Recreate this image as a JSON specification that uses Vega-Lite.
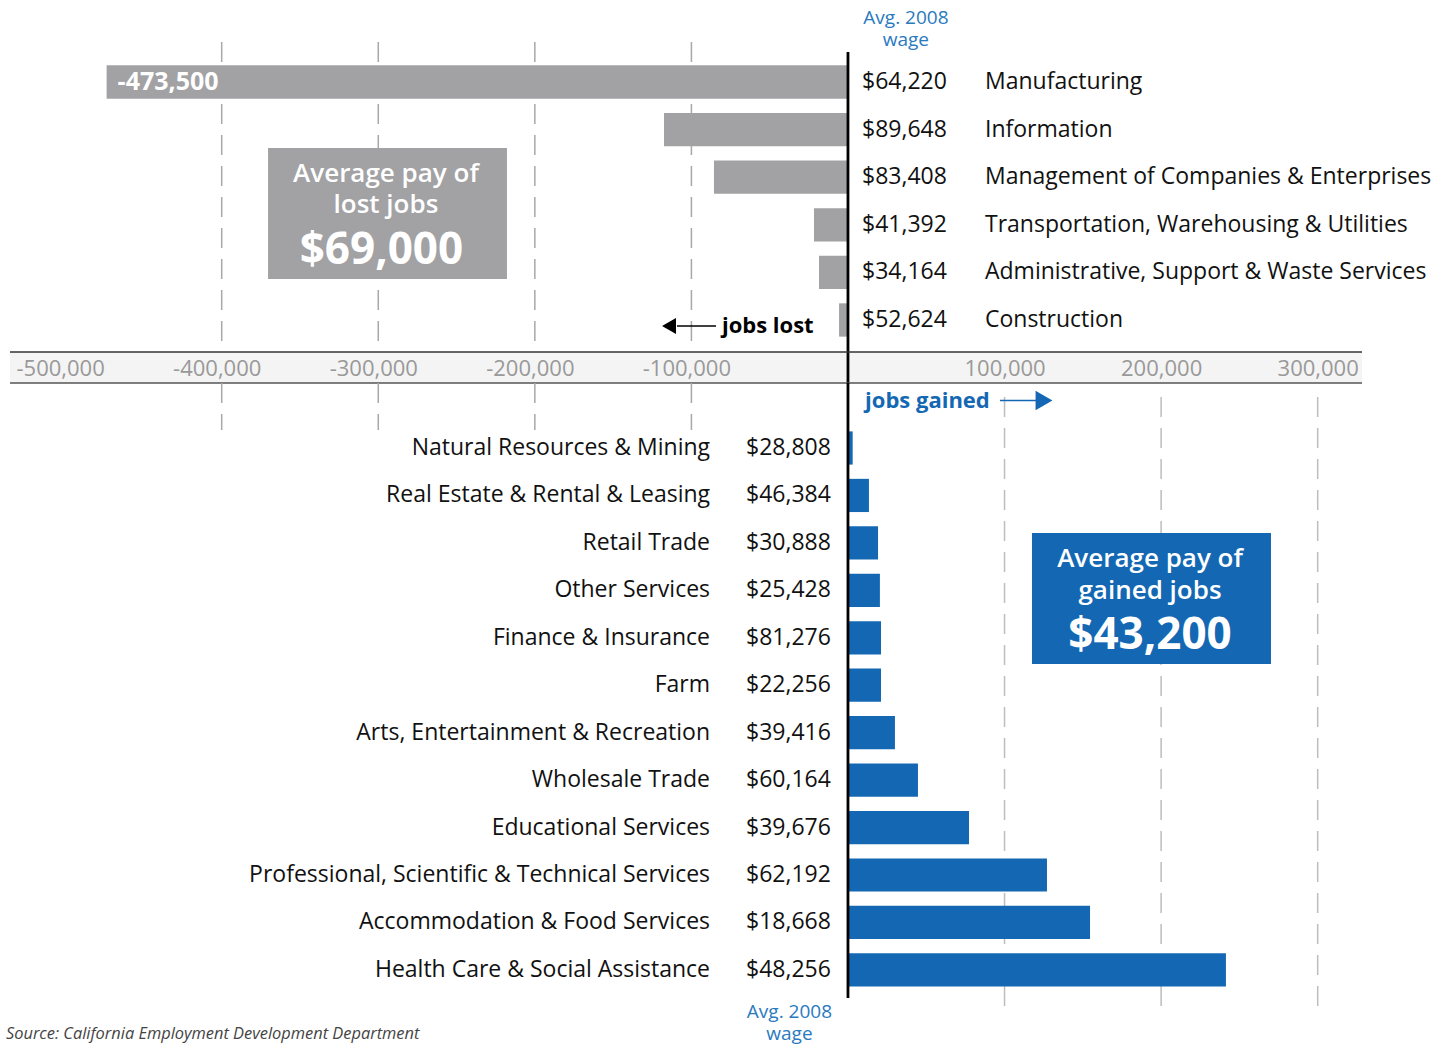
{
  "$schema": "https://vega.github.io/schema/vega-lite/v6.json",
  "padding": 0,
  "spacing": 0,
  "bounds": "flush",
  "config": {
    "view": {"stroke": null},
    "font": "Open Sans",
    "locale": {"number": {"decimal": ".", "thousands": ",", "grouping": [3], "currency": ["$", ""], "minus": "-"}}
  },
  "datasets": {
    "lost": [
      {"industry": "Manufacturing", "jobs": -473500, "wage": 64220},
      {"industry": "Information", "jobs": -117500, "wage": 89648},
      {"industry": "Management of Companies & Enterprises", "jobs": -85600, "wage": 83408},
      {"industry": "Transportation, Warehousing & Utilities", "jobs": -21700, "wage": 41392},
      {"industry": "Administrative, Support & Waste Services", "jobs": -18500, "wage": 34164},
      {"industry": "Construction", "jobs": -5700, "wage": 52624}
    ],
    "gained": [
      {"industry": "Natural Resources & Mining", "jobs": 3000, "wage": 28808},
      {"industry": "Real Estate & Rental & Leasing", "jobs": 13400, "wage": 46384},
      {"industry": "Retail Trade", "jobs": 19200, "wage": 30888},
      {"industry": "Other Services", "jobs": 20400, "wage": 25428},
      {"industry": "Finance & Insurance", "jobs": 21100, "wage": 81276},
      {"industry": "Farm", "jobs": 21100, "wage": 22256},
      {"industry": "Arts, Entertainment & Recreation", "jobs": 30000, "wage": 39416},
      {"industry": "Wholesale Trade", "jobs": 44700, "wage": 60164},
      {"industry": "Educational Services", "jobs": 77300, "wage": 39676},
      {"industry": "Professional, Scientific & Technical Services", "jobs": 127100, "wage": 62192},
      {"industry": "Accommodation & Food Services", "jobs": 154600, "wage": 18668},
      {"industry": "Health Care & Social Assistance", "jobs": 241400, "wage": 48256}
    ],
    "grid": [
      {"v": -400000}, {"v": -300000}, {"v": -200000}, {"v": -100000},
      {"v": 100000}, {"v": 200000}, {"v": 300000}
    ]
  },
  "resolve": {"scale": {"x": "independent", "y": "independent"}},
  "vconcat": [
    {
      "width": 1442,
      "height": 352,
      "layer": [
        {
          "data": {"name": "grid"},
          "transform": [{"filter": "datum.v < 0"}],
          "mark": {"type": "rule", "color": "#a8a8a8", "strokeWidth": 1.5, "strokeDash": [20, 11]},
          "encoding": {
            "x": {"field": "v", "type": "quantitative", "scale": {"domain": [-541600, 379400], "nice": false, "zero": false}, "axis": null},
            "y": {"datum": "_header", "type": "nominal", "bandPosition": 0.728, "axis": null,
              "scale": {"type": "band", "round": false, "domain": ["_header", "Manufacturing", "Information", "Management of Companies & Enterprises", "Transportation, Warehousing & Utilities", "Administrative, Support & Waste Services", "Construction"], "paddingInner": 0.3, "paddingOuter": 0.3475, "align": 0.536}},
            "y2": {"datum": "Construction", "bandPosition": 1.46}
          }
        },
        {
          "data": {"name": "lost"},
          "mark": {"type": "bar", "color": "#a2a2a4"},
          "encoding": {
            "x": {"field": "jobs", "type": "quantitative", "scale": {"domain": [-541600, 379400], "nice": false, "zero": false}, "axis": null},
            "x2": {"datum": 0},
            "y": {"field": "industry", "type": "nominal", "axis": null,
              "scale": {"type": "band", "round": false, "domain": ["_header", "Manufacturing", "Information", "Management of Companies & Enterprises", "Transportation, Warehousing & Utilities", "Administrative, Support & Waste Services", "Construction"], "paddingInner": 0.3, "paddingOuter": 0.3475, "align": 0.536}}
          }
        },
        {
          "data": {"values": [{"label": "zero"}]},
          "mark": {"type": "rule", "color": "#000000", "strokeWidth": 2.8},
          "encoding": {
            "x": {"datum": 0, "type": "quantitative", "scale": {"domain": [-541600, 379400], "nice": false, "zero": false}, "axis": null},
            "y": {"datum": "_header", "type": "nominal", "bandPosition": 1.03, "axis": null,
              "scale": {"type": "band", "round": false, "domain": ["_header", "Manufacturing", "Information", "Management of Companies & Enterprises", "Transportation, Warehousing & Utilities", "Administrative, Support & Waste Services", "Construction"], "paddingInner": 0.3, "paddingOuter": 0.3475, "align": 0.536}},
            "y2": {"datum": "Construction", "bandPosition": 1.46}
          }
        },
        {
          "data": {"name": "lost"},
          "mark": {"type": "text", "align": "left", "baseline": "middle", "fontSize": 23, "color": "#111111"},
          "encoding": {
            "x": {"datum": 8940, "type": "quantitative", "scale": {"domain": [-541600, 379400], "nice": false, "zero": false}, "axis": null},
            "y": {"field": "industry", "type": "nominal", "axis": null,
              "scale": {"type": "band", "round": false, "domain": ["_header", "Manufacturing", "Information", "Management of Companies & Enterprises", "Transportation, Warehousing & Utilities", "Administrative, Support & Waste Services", "Construction"], "paddingInner": 0.3, "paddingOuter": 0.3475, "align": 0.536}},
            "text": {"field": "wage", "type": "quantitative", "format": "$,"}
          }
        },
        {
          "data": {"name": "lost"},
          "mark": {"type": "text", "align": "left", "baseline": "middle", "fontSize": 23, "color": "#111111"},
          "encoding": {
            "x": {"datum": 87500, "type": "quantitative", "scale": {"domain": [-541600, 379400], "nice": false, "zero": false}, "axis": null},
            "y": {"field": "industry", "type": "nominal", "axis": null,
              "scale": {"type": "band", "round": false, "domain": ["_header", "Manufacturing", "Information", "Management of Companies & Enterprises", "Transportation, Warehousing & Utilities", "Administrative, Support & Waste Services", "Construction"], "paddingInner": 0.3, "paddingOuter": 0.3475, "align": 0.536}},
            "text": {"field": "industry", "type": "nominal"}
          }
        },
        {
          "data": {"name": "lost"},
          "transform": [{"filter": {"field": "industry", "equal": "Manufacturing"}}],
          "mark": {"type": "text", "align": "left", "baseline": "middle", "fontSize": 25, "fontWeight": "bold", "color": "#ffffff", "dx": 11},
          "encoding": {
            "x": {"field": "jobs", "type": "quantitative", "scale": {"domain": [-541600, 379400], "nice": false, "zero": false}, "axis": null},
            "y": {"field": "industry", "type": "nominal", "axis": null,
              "scale": {"type": "band", "round": false, "domain": ["_header", "Manufacturing", "Information", "Management of Companies & Enterprises", "Transportation, Warehousing & Utilities", "Administrative, Support & Waste Services", "Construction"], "paddingInner": 0.3, "paddingOuter": 0.3475, "align": 0.536}},
            "text": {"field": "jobs", "type": "quantitative", "format": ","}
          }
        },
        {
          "data": {"values": [{"label": "Avg. 2008\nwage"}]},
          "mark": {"type": "text", "align": "center", "baseline": "middle", "fontSize": 19, "lineHeight": 22, "lineBreak": "\n", "color": "#2a7ac0"},
          "encoding": {
            "x": {"datum": 37000, "type": "quantitative", "scale": {"domain": [-541600, 379400], "nice": false, "zero": false}, "axis": null},
            "y": {"datum": "_header", "type": "nominal", "bandPosition": 0.0, "axis": null,
              "scale": {"type": "band", "round": false, "domain": ["_header", "Manufacturing", "Information", "Management of Companies & Enterprises", "Transportation, Warehousing & Utilities", "Administrative, Support & Waste Services", "Construction"], "paddingInner": 0.3, "paddingOuter": 0.3475, "align": 0.536}},
            "text": {"field": "label", "type": "nominal"}
          }
        },
        {
          "data": {"values": [{"label": "box"}]},
          "mark": {"type": "rect", "color": "#a2a2a4"},
          "encoding": {
            "x": {"datum": -370400, "type": "quantitative", "scale": {"domain": [-541600, 379400], "nice": false, "zero": false}, "axis": null},
            "x2": {"datum": -217800},
            "y": {"datum": "Management of Companies & Enterprises", "type": "nominal", "bandPosition": -0.376, "axis": null,
              "scale": {"type": "band", "round": false, "domain": ["_header", "Manufacturing", "Information", "Management of Companies & Enterprises", "Transportation, Warehousing & Utilities", "Administrative, Support & Waste Services", "Construction"], "paddingInner": 0.3, "paddingOuter": 0.3475, "align": 0.536}},
            "y2": {"datum": "Administrative, Support & Waste Services", "bandPosition": 0.7}
          }
        },
        {
          "data": {"values": [{"label": "Average pay of\nlost jobs"}]},
          "mark": {"type": "text", "align": "center", "baseline": "middle", "fontSize": 26, "fontWeight": 600, "lineHeight": 31, "lineBreak": "\n", "color": "#ffffff"},
          "encoding": {
            "x": {"datum": -295100, "type": "quantitative", "scale": {"domain": [-541600, 379400], "nice": false, "zero": false}, "axis": null},
            "y": {"datum": "Management of Companies & Enterprises", "type": "nominal", "bandPosition": 0.4, "axis": null,
              "scale": {"type": "band", "round": false, "domain": ["_header", "Manufacturing", "Information", "Management of Companies & Enterprises", "Transportation, Warehousing & Utilities", "Administrative, Support & Waste Services", "Construction"], "paddingInner": 0.3, "paddingOuter": 0.3475, "align": 0.536}},
            "text": {"field": "label", "type": "nominal"}
          }
        },
        {
          "data": {"values": [{"label": "$69,000"}]},
          "mark": {"type": "text", "align": "center", "baseline": "middle", "fontSize": 44, "fontWeight": "bold", "color": "#ffffff"},
          "encoding": {
            "x": {"datum": -298000, "type": "quantitative", "scale": {"domain": [-541600, 379400], "nice": false, "zero": false}, "axis": null},
            "y": {"datum": "Transportation, Warehousing & Utilities", "type": "nominal", "bandPosition": 1.28, "axis": null,
              "scale": {"type": "band", "round": false, "domain": ["_header", "Manufacturing", "Information", "Management of Companies & Enterprises", "Transportation, Warehousing & Utilities", "Administrative, Support & Waste Services", "Construction"], "paddingInner": 0.3, "paddingOuter": 0.3475, "align": 0.536}},
            "text": {"field": "label", "type": "nominal"}
          }
        },
        {
          "data": {"values": [{"label": "arrow"}]},
          "mark": {"type": "rule", "color": "#000000", "strokeWidth": 1.5},
          "encoding": {
            "x": {"datum": -109200, "type": "quantitative", "scale": {"domain": [-541600, 379400], "nice": false, "zero": false}, "axis": null},
            "x2": {"datum": -84300},
            "y": {"datum": "Construction", "type": "nominal", "bandPosition": 0.68, "axis": null,
              "scale": {"type": "band", "round": false, "domain": ["_header", "Manufacturing", "Information", "Management of Companies & Enterprises", "Transportation, Warehousing & Utilities", "Administrative, Support & Waste Services", "Construction"], "paddingInner": 0.3, "paddingOuter": 0.3475, "align": 0.536}}
          }
        },
        {
          "data": {"values": [{"label": "arrowhead"}]},
          "mark": {"type": "point", "shape": "triangle-left", "filled": true, "color": "#000000", "size": 260, "opacity": 1},
          "encoding": {
            "x": {"datum": -114300, "type": "quantitative", "scale": {"domain": [-541600, 379400], "nice": false, "zero": false}, "axis": null},
            "y": {"datum": "Construction", "type": "nominal", "bandPosition": 0.68, "axis": null,
              "scale": {"type": "band", "round": false, "domain": ["_header", "Manufacturing", "Information", "Management of Companies & Enterprises", "Transportation, Warehousing & Utilities", "Administrative, Support & Waste Services", "Construction"], "paddingInner": 0.3, "paddingOuter": 0.3475, "align": 0.536}}
          }
        },
        {
          "data": {"values": [{"label": "jobs lost"}]},
          "mark": {"type": "text", "align": "left", "baseline": "middle", "fontSize": 22, "fontWeight": "bold", "color": "#000000"},
          "encoding": {
            "x": {"datum": -80500, "type": "quantitative", "scale": {"domain": [-541600, 379400], "nice": false, "zero": false}, "axis": null},
            "y": {"datum": "Construction", "type": "nominal", "bandPosition": 0.68, "axis": null,
              "scale": {"type": "band", "round": false, "domain": ["_header", "Manufacturing", "Information", "Management of Companies & Enterprises", "Transportation, Warehousing & Utilities", "Administrative, Support & Waste Services", "Construction"], "paddingInner": 0.3, "paddingOuter": 0.3475, "align": 0.536}},
            "text": {"field": "label", "type": "nominal"}
          }
        }
      ]
    },
    {
      "width": 1442,
      "height": 31,
      "layer": [
        {
          "data": {"values": [{"label": "band"}]},
          "mark": {"type": "rect", "color": "#f4f4f4"},
          "encoding": {
            "x": {"datum": -535200, "type": "quantitative", "scale": {"domain": [-541600, 379400], "nice": false, "zero": false},
              "axis": {"orient": "bottom", "zindex": 2, "values": [-500000, -400000, -300000, -200000, -100000, 100000, 200000, 300000], "labelExpr": "replace(format(datum.value, ','), '\u2212', '-')", "labelColor": "#999999", "labelFontSize": 22, "labelFont": "Open Sans", "labelOffset": {"condition": {"test": "datum.value < 0", "value": -5}, "value": 0}, "domain": false, "ticks": false, "tickSize": 0, "grid": false, "labelPadding": -15, "labelBaseline": "middle", "labelFlush": false, "labelOverlap": false, "labelBound": false, "title": null}},
            "x2": {"datum": 328300},
            "y": {"datum": 0, "type": "quantitative", "scale": {"domain": [0, 1]}, "axis": null},
            "y2": {"datum": 1}
          }
        },
        {
          "data": {"values": [{"label": "zero"}]},
          "mark": {"type": "rule", "color": "#000000", "strokeWidth": 2.8},
          "encoding": {
            "x": {"datum": 0, "type": "quantitative", "scale": {"domain": [-541600, 379400], "nice": false, "zero": false}}
          }
        },
        {
          "data": {"values": [{"label": "top line"}]},
          "mark": {"type": "rule", "color": "#333333", "strokeWidth": 1.6},
          "encoding": {
            "x": {"datum": -535200, "type": "quantitative", "scale": {"domain": [-541600, 379400], "nice": false, "zero": false}},
            "x2": {"datum": 328300},
            "y": {"datum": 1, "type": "quantitative", "scale": {"domain": [0, 1]}, "axis": null}
          }
        },
        {
          "data": {"values": [{"label": "bottom line"}]},
          "mark": {"type": "rule", "color": "#555555", "strokeWidth": 1.6},
          "encoding": {
            "x": {"datum": -535200, "type": "quantitative", "scale": {"domain": [-541600, 379400], "nice": false, "zero": false}},
            "x2": {"datum": 328300},
            "y": {"datum": 0, "type": "quantitative", "scale": {"domain": [0, 1]}, "axis": null}
          }
        }
      ]
    },
    {
      "width": 1442,
      "height": 661,
      "layer": [
        {
          "data": {"name": "grid"},
          "transform": [{"filter": "datum.v < 0"}],
          "mark": {"type": "rule", "color": "#a8a8a8", "strokeWidth": 1.5, "strokeDash": [20, 11]},
          "encoding": {
            "x": {"field": "v", "type": "quantitative", "scale": {"domain": [-541600, 379400], "nice": false, "zero": false}, "axis": null},
            "y": {"datum": "_gain", "type": "nominal", "bandPosition": -0.03, "axis": null,
              "scale": {"type": "band", "round": false, "domain": ["_gain", "Natural Resources & Mining", "Real Estate & Rental & Leasing", "Retail Trade", "Other Services", "Finance & Insurance", "Farm", "Arts, Entertainment & Recreation", "Wholesale Trade", "Educational Services", "Professional, Scientific & Technical Services", "Accommodation & Food Services", "Health Care & Social Assistance", "_footer"], "paddingInner": 0.3, "paddingOuter": 0.116, "align": 0.086}},
            "y2": {"datum": "Natural Resources & Mining", "bandPosition": -0.04}
          }
        },
        {
          "data": {"name": "grid"},
          "transform": [{"filter": "datum.v > 0"}],
          "mark": {"type": "rule", "color": "#bdbdbd", "strokeWidth": 1.5, "strokeDash": [20, 11]},
          "encoding": {
            "x": {"field": "v", "type": "quantitative", "scale": {"domain": [-541600, 379400], "nice": false, "zero": false}, "axis": null},
            "y": {"datum": "_gain", "type": "nominal", "bandPosition": 0.39, "axis": null,
              "scale": {"type": "band", "round": false, "domain": ["_gain", "Natural Resources & Mining", "Real Estate & Rental & Leasing", "Retail Trade", "Other Services", "Finance & Insurance", "Farm", "Arts, Entertainment & Recreation", "Wholesale Trade", "Educational Services", "Professional, Scientific & Technical Services", "Accommodation & Food Services", "Health Care & Social Assistance", "_footer"], "paddingInner": 0.3, "paddingOuter": 0.116, "align": 0.086}},
            "y2": {"datum": "_footer", "bandPosition": 0.28}
          }
        },
        {
          "data": {"name": "gained"},
          "mark": {"type": "bar", "color": "#1468b3"},
          "encoding": {
            "x": {"field": "jobs", "type": "quantitative", "scale": {"domain": [-541600, 379400], "nice": false, "zero": false}, "axis": null},
            "x2": {"datum": 0},
            "y": {"field": "industry", "type": "nominal", "axis": null,
              "scale": {"type": "band", "round": false, "domain": ["_gain", "Natural Resources & Mining", "Real Estate & Rental & Leasing", "Retail Trade", "Other Services", "Finance & Insurance", "Farm", "Arts, Entertainment & Recreation", "Wholesale Trade", "Educational Services", "Professional, Scientific & Technical Services", "Accommodation & Food Services", "Health Care & Social Assistance", "_footer"], "paddingInner": 0.3, "paddingOuter": 0.116, "align": 0.086}}
          }
        },
        {
          "data": {"values": [{"label": "zero"}]},
          "mark": {"type": "rule", "color": "#000000", "strokeWidth": 2.8},
          "encoding": {
            "x": {"datum": 0, "type": "quantitative", "scale": {"domain": [-541600, 379400], "nice": false, "zero": false}, "axis": null},
            "y": {"datum": "_gain", "type": "nominal", "bandPosition": -0.03, "axis": null,
              "scale": {"type": "band", "round": false, "domain": ["_gain", "Natural Resources & Mining", "Real Estate & Rental & Leasing", "Retail Trade", "Other Services", "Finance & Insurance", "Farm", "Arts, Entertainment & Recreation", "Wholesale Trade", "Educational Services", "Professional, Scientific & Technical Services", "Accommodation & Food Services", "Health Care & Social Assistance", "_footer"], "paddingInner": 0.3, "paddingOuter": 0.116, "align": 0.086}},
            "y2": {"datum": "Health Care & Social Assistance", "bandPosition": 1.35}
          }
        },
        {
          "data": {"name": "gained"},
          "mark": {"type": "text", "align": "right", "baseline": "middle", "fontSize": 23, "color": "#111111"},
          "encoding": {
            "x": {"datum": -10900, "type": "quantitative", "scale": {"domain": [-541600, 379400], "nice": false, "zero": false}, "axis": null},
            "y": {"field": "industry", "type": "nominal", "axis": null,
              "scale": {"type": "band", "round": false, "domain": ["_gain", "Natural Resources & Mining", "Real Estate & Rental & Leasing", "Retail Trade", "Other Services", "Finance & Insurance", "Farm", "Arts, Entertainment & Recreation", "Wholesale Trade", "Educational Services", "Professional, Scientific & Technical Services", "Accommodation & Food Services", "Health Care & Social Assistance", "_footer"], "paddingInner": 0.3, "paddingOuter": 0.116, "align": 0.086}},
            "text": {"field": "wage", "type": "quantitative", "format": "$,"}
          }
        },
        {
          "data": {"name": "gained"},
          "mark": {"type": "text", "align": "right", "baseline": "middle", "fontSize": 23, "color": "#111111"},
          "encoding": {
            "x": {"datum": -88100, "type": "quantitative", "scale": {"domain": [-541600, 379400], "nice": false, "zero": false}, "axis": null},
            "y": {"field": "industry", "type": "nominal", "axis": null,
              "scale": {"type": "band", "round": false, "domain": ["_gain", "Natural Resources & Mining", "Real Estate & Rental & Leasing", "Retail Trade", "Other Services", "Finance & Insurance", "Farm", "Arts, Entertainment & Recreation", "Wholesale Trade", "Educational Services", "Professional, Scientific & Technical Services", "Accommodation & Food Services", "Health Care & Social Assistance", "_footer"], "paddingInner": 0.3, "paddingOuter": 0.116, "align": 0.086}},
            "text": {"field": "industry", "type": "nominal"}
          }
        },
        {
          "data": {"values": [{"label": "box"}]},
          "mark": {"type": "rect", "color": "#1468b3"},
          "encoding": {
            "x": {"datum": 117520, "type": "quantitative", "scale": {"domain": [-541600, 379400], "nice": false, "zero": false}, "axis": null},
            "x2": {"datum": 270170},
            "y": {"datum": "Retail Trade", "type": "nominal", "bandPosition": 0.2, "axis": null,
              "scale": {"type": "band", "round": false, "domain": ["_gain", "Natural Resources & Mining", "Real Estate & Rental & Leasing", "Retail Trade", "Other Services", "Finance & Insurance", "Farm", "Arts, Entertainment & Recreation", "Wholesale Trade", "Educational Services", "Professional, Scientific & Technical Services", "Accommodation & Food Services", "Health Care & Social Assistance", "_footer"], "paddingInner": 0.3, "paddingOuter": 0.116, "align": 0.086}},
            "y2": {"datum": "Farm", "bandPosition": -0.14}
          }
        },
        {
          "data": {"values": [{"label": "Average pay of\ngained jobs"}]},
          "mark": {"type": "text", "align": "center", "baseline": "middle", "fontSize": 26, "fontWeight": 600, "lineHeight": 32, "lineBreak": "\n", "color": "#ffffff"},
          "encoding": {
            "x": {"datum": 192900, "type": "quantitative", "scale": {"domain": [-541600, 379400], "nice": false, "zero": false}, "axis": null},
            "y": {"datum": "Other Services", "type": "nominal", "bandPosition": -0.44, "axis": null,
              "scale": {"type": "band", "round": false, "domain": ["_gain", "Natural Resources & Mining", "Real Estate & Rental & Leasing", "Retail Trade", "Other Services", "Finance & Insurance", "Farm", "Arts, Entertainment & Recreation", "Wholesale Trade", "Educational Services", "Professional, Scientific & Technical Services", "Accommodation & Food Services", "Health Care & Social Assistance", "_footer"], "paddingInner": 0.3, "paddingOuter": 0.116, "align": 0.086}},
            "text": {"field": "label", "type": "nominal"}
          }
        },
        {
          "data": {"values": [{"label": "$43,200"}]},
          "mark": {"type": "text", "align": "center", "baseline": "middle", "fontSize": 44, "fontWeight": "bold", "color": "#ffffff"},
          "encoding": {
            "x": {"datum": 192900, "type": "quantitative", "scale": {"domain": [-541600, 379400], "nice": false, "zero": false}, "axis": null},
            "y": {"datum": "Finance & Insurance", "type": "nominal", "bandPosition": 0.45, "axis": null,
              "scale": {"type": "band", "round": false, "domain": ["_gain", "Natural Resources & Mining", "Real Estate & Rental & Leasing", "Retail Trade", "Other Services", "Finance & Insurance", "Farm", "Arts, Entertainment & Recreation", "Wholesale Trade", "Educational Services", "Professional, Scientific & Technical Services", "Accommodation & Food Services", "Health Care & Social Assistance", "_footer"], "paddingInner": 0.3, "paddingOuter": 0.116, "align": 0.086}},
            "text": {"field": "label", "type": "nominal"}
          }
        },
        {
          "data": {"values": [{"label": "jobs gained"}]},
          "mark": {"type": "text", "align": "left", "baseline": "middle", "fontSize": 22, "fontWeight": "bold", "color": "#1468b3"},
          "encoding": {
            "x": {"datum": 10900, "type": "quantitative", "scale": {"domain": [-541600, 379400], "nice": false, "zero": false}, "axis": null},
            "y": {"datum": "_gain", "type": "nominal", "axis": null,
              "scale": {"type": "band", "round": false, "domain": ["_gain", "Natural Resources & Mining", "Real Estate & Rental & Leasing", "Retail Trade", "Other Services", "Finance & Insurance", "Farm", "Arts, Entertainment & Recreation", "Wholesale Trade", "Educational Services", "Professional, Scientific & Technical Services", "Accommodation & Food Services", "Health Care & Social Assistance", "_footer"], "paddingInner": 0.3, "paddingOuter": 0.116, "align": 0.086}},
            "text": {"field": "label", "type": "nominal"}
          }
        },
        {
          "data": {"values": [{"label": "arrow"}]},
          "mark": {"type": "rule", "color": "#1468b3", "strokeWidth": 1.5},
          "encoding": {
            "x": {"datum": 97100, "type": "quantitative", "scale": {"domain": [-541600, 379400], "nice": false, "zero": false}, "axis": null},
            "x2": {"datum": 120100},
            "y": {"datum": "_gain", "type": "nominal", "axis": null,
              "scale": {"type": "band", "round": false, "domain": ["_gain", "Natural Resources & Mining", "Real Estate & Rental & Leasing", "Retail Trade", "Other Services", "Finance & Insurance", "Farm", "Arts, Entertainment & Recreation", "Wholesale Trade", "Educational Services", "Professional, Scientific & Technical Services", "Accommodation & Food Services", "Health Care & Social Assistance", "_footer"], "paddingInner": 0.3, "paddingOuter": 0.116, "align": 0.086}}
          }
        },
        {
          "data": {"values": [{"label": "arrowhead"}]},
          "mark": {"type": "point", "shape": "triangle-right", "filled": true, "color": "#1468b3", "size": 380, "opacity": 1},
          "encoding": {
            "x": {"datum": 125200, "type": "quantitative", "scale": {"domain": [-541600, 379400], "nice": false, "zero": false}, "axis": null},
            "y": {"datum": "_gain", "type": "nominal", "axis": null,
              "scale": {"type": "band", "round": false, "domain": ["_gain", "Natural Resources & Mining", "Real Estate & Rental & Leasing", "Retail Trade", "Other Services", "Finance & Insurance", "Farm", "Arts, Entertainment & Recreation", "Wholesale Trade", "Educational Services", "Professional, Scientific & Technical Services", "Accommodation & Food Services", "Health Care & Social Assistance", "_footer"], "paddingInner": 0.3, "paddingOuter": 0.116, "align": 0.086}}
          }
        },
        {
          "data": {"values": [{"label": "Avg. 2008\nwage"}]},
          "mark": {"type": "text", "align": "center", "baseline": "middle", "fontSize": 19, "lineHeight": 22, "lineBreak": "\n", "color": "#2a7ac0"},
          "encoding": {
            "x": {"datum": -37400, "type": "quantitative", "scale": {"domain": [-541600, 379400], "nice": false, "zero": false}, "axis": null},
            "y": {"datum": "_footer", "type": "nominal", "bandPosition": 0.34, "axis": null,
              "scale": {"type": "band", "round": false, "domain": ["_gain", "Natural Resources & Mining", "Real Estate & Rental & Leasing", "Retail Trade", "Other Services", "Finance & Insurance", "Farm", "Arts, Entertainment & Recreation", "Wholesale Trade", "Educational Services", "Professional, Scientific & Technical Services", "Accommodation & Food Services", "Health Care & Social Assistance", "_footer"], "paddingInner": 0.3, "paddingOuter": 0.116, "align": 0.086}},
            "text": {"field": "label", "type": "nominal"}
          }
        },
        {
          "data": {"values": [{"label": "Source: California Employment Development Department"}]},
          "mark": {"type": "text", "align": "left", "baseline": "middle", "fontSize": 16.4, "fontStyle": "italic", "color": "#444444"},
          "encoding": {
            "x": {"datum": -537800, "type": "quantitative", "scale": {"domain": [-541600, 379400], "nice": false, "zero": false}, "axis": null},
            "y": {"datum": "_footer", "type": "nominal", "bandPosition": 1.0, "axis": null,
              "scale": {"type": "band", "round": false, "domain": ["_gain", "Natural Resources & Mining", "Real Estate & Rental & Leasing", "Retail Trade", "Other Services", "Finance & Insurance", "Farm", "Arts, Entertainment & Recreation", "Wholesale Trade", "Educational Services", "Professional, Scientific & Technical Services", "Accommodation & Food Services", "Health Care & Social Assistance", "_footer"], "paddingInner": 0.3, "paddingOuter": 0.116, "align": 0.086}},
            "text": {"field": "label", "type": "nominal"}
          }
        }
      ]
    }
  ]
}
